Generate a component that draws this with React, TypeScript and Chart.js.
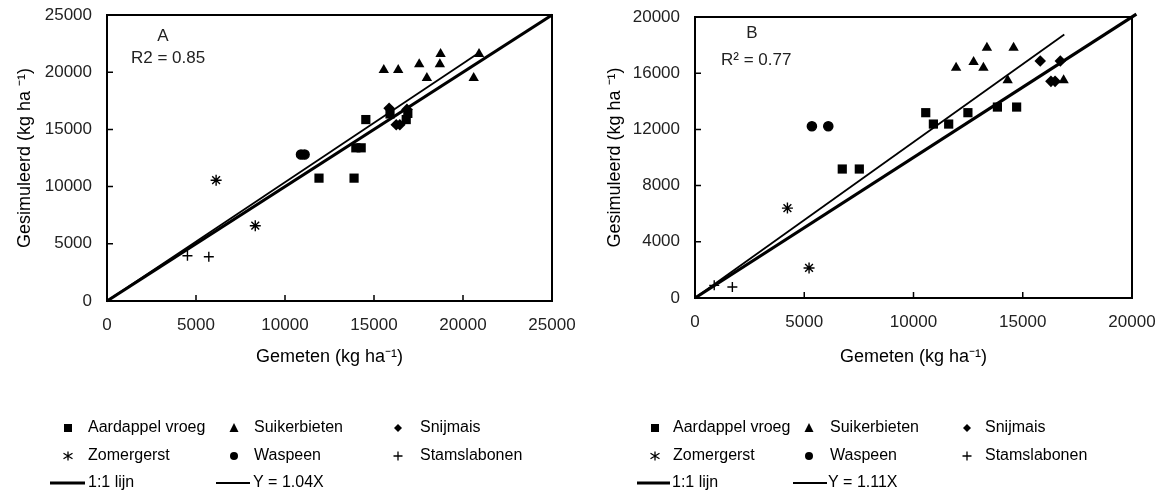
import React, { useEffect, useRef } from "react";
import { Chart, registerables } from "chart.js";
Chart.register(...registerables);

const FONT = "'Liberation Sans', Arial, sans-serif";

// ---------- Panel A data ----------
const aAardappelX = [14540, 13980, 14280, 11910, 13880, 16810, 16900, 15900];
const aAardappelY = [15860, 13390, 13390, 10740, 10740, 15860, 16400, 16350];
const aSuikerX = [15550, 16360, 17540, 18740, 18700, 17970, 20600, 20900];
const aSuikerY = [20200, 20200, 20700, 21600, 20700, 19500, 19500, 21600];
const aSnijmaisX = [15850, 16850, 16250, 16450];
const aSnijmaisY = [16850, 16750, 15400, 15400];
const aZomerX = [6130, 8330];
const aZomerY = [10560, 6580];
const aWaspeenX = [10900, 11100];
const aWaspeenY = [12800, 12800];
const aStamX = [4520, 5720];
const aStamY = [3960, 3870];
const aOneX = [0, 25000];
const aOneY = [0, 25000];
const aFitX = [0, 20900];
const aFitY = [0, 21700];
const aXTicks = [0, 5000, 10000, 15000, 20000, 25000];
const aYTicks = [0, 5000, 10000, 15000, 20000, 25000];

// ---------- Panel B data ----------
const bAardappelX = [10560, 10910, 11610, 12490, 13840, 14720, 6740, 7520];
const bAardappelY = [13190, 12380, 12380, 13190, 13590, 13590, 9180, 9180];
const bSuikerX = [13360, 14580, 11950, 12750, 13200, 14310, 16870];
const bSuikerY = [17820, 17820, 16390, 16800, 16390, 15490, 15490];
const bSnijmaisX = [15800, 16720, 16290, 16480];
const bSnijmaisY = [16870, 16870, 15420, 15420];
const bZomerX = [4230, 5220];
const bZomerY = [6400, 2140];
const bWaspeenX = [5350, 6100];
const bWaspeenY = [12220, 12220];
const bStamX = [880, 1710];
const bStamY = [900, 780];
const bOneX = [0, 20200];
const bOneY = [0, 20200];
const bFitX = [0, 16900];
const bFitY = [0, 18760];
const bXTicks = [0, 5000, 10000, 15000, 20000];
const bYTicks = [0, 4000, 8000, 12000, 16000, 20000];

const seriesNames = ["Aardappel vroeg", "Suikerbieten", "Snijmais", "Zomergerst", "Waspeen", "Stamslabonen"];

const pts = (xs: number[], ys: number[]) => xs.map((x, i) => ({ x, y: ys[i] }));

function drawMarker(ctx: CanvasRenderingContext2D, kind: string, x: number, y: number, s: number) {
  ctx.save();
  ctx.fillStyle = "#000";
  ctx.strokeStyle = "#000";
  ctx.lineWidth = 1.3;
  ctx.beginPath();
  if (kind === "rect") {
    ctx.fillRect(x - s / 2, y - s / 2, s, s);
  } else if (kind === "triangle") {
    ctx.moveTo(x, y - s * 0.55);
    ctx.lineTo(x + s / 2, y + s * 0.45);
    ctx.lineTo(x - s / 2, y + s * 0.45);
    ctx.closePath();
    ctx.fill();
  } else if (kind === "diamond") {
    ctx.moveTo(x, y - s / 2);
    ctx.lineTo(x + s / 2, y);
    ctx.lineTo(x, y + s / 2);
    ctx.lineTo(x - s / 2, y);
    ctx.closePath();
    ctx.fill();
  } else if (kind === "circle") {
    ctx.arc(x, y, s / 2, 0, Math.PI * 2);
    ctx.fill();
  } else if (kind === "star") {
    const r = s / 2;
    ctx.moveTo(x - r, y - r * 0.6); ctx.lineTo(x + r, y + r * 0.6);
    ctx.moveTo(x - r, y + r * 0.6); ctx.lineTo(x + r, y - r * 0.6);
    ctx.moveTo(x, y - r); ctx.lineTo(x, y + r);
    ctx.stroke();
  } else if (kind === "cross") {
    const r = s / 2;
    ctx.moveTo(x - r, y); ctx.lineTo(x + r, y);
    ctx.moveTo(x, y - r); ctx.lineTo(x, y + r);
    ctx.stroke();
  }
  ctx.restore();
}

type PanelCfg = {
  W: number;
  plotLeft: number; plotRight: number; plotTop: number; plotBottom: number;
  max: number; xTicks: number[]; yTicks: number[];
  yTitlePad: number; xTitlePad: number;
  series: { x: number[]; y: number[] }[];
  one: { x: number[]; y: number[] };
  fit: { x: number[]; y: number[] };
  fitLabel: string;
  letter: string; letterPos: [number, number];
  r2: string; r2Pos: [number, number];
  legendMarkerX: number[]; legendTextX: number[];
  legendRows: number[];
  lineRowY: number;
  oneLine: [number, number, number];
  fitLine: [number, number, number];
};

const H = 493;
const X_AXIS_H = 80;

function buildChart(canvas: HTMLCanvasElement, c: PanelCfg) {
  const styles = [
    { pointStyle: "rect", radius: 6.5 },
    { pointStyle: "triangle", radius: 6 },
    { pointStyle: "rectRot", radius: 5.8 },
    { pointStyle: "star", radius: 5.5 },
    { pointStyle: "circle", radius: 4.6 },
    { pointStyle: "cross", radius: 5 },
  ];
  const datasets: any[] = c.series.map((s, i) => ({
    label: seriesNames[i],
    data: pts(s.x, s.y),
    pointStyle: styles[i].pointStyle,
    pointRadius: styles[i].radius,
    pointBackgroundColor: "#000",
    pointBorderColor: "#000",
    pointBorderWidth: i >= 3 ? 1.4 : 0,
    showLine: false,
    clip: false,
  }));
  datasets.push({
    label: "1:1 lijn",
    data: pts(c.one.x, c.one.y),
    showLine: true,
    borderColor: "#000",
    borderWidth: 3.2,
    pointRadius: 0,
    clip: false,
  });
  datasets.push({
    label: c.fitLabel,
    data: pts(c.fit.x, c.fit.y),
    showLine: true,
    borderColor: "#000",
    borderWidth: 1.8,
    pointRadius: 0,
    clip: false,
  });

  const overlay = {
    id: "overlay",
    afterDraw(chart: any) {
      const ctx: CanvasRenderingContext2D = chart.ctx;
      const a = chart.chartArea;
      const xs = chart.scales.x;
      const ys = chart.scales.y;
      ctx.save();
      // frame
      ctx.strokeStyle = "#000";
      ctx.lineWidth = 2;
      ctx.strokeRect(a.left, a.top, a.right - a.left, a.bottom - a.top);
      // inward tick marks
      ctx.lineWidth = 1.5;
      ctx.beginPath();
      xs.ticks.forEach((t: any) => {
        const px = xs.getPixelForValue(t.value);
        ctx.moveTo(px, a.bottom);
        ctx.lineTo(px, a.bottom - 6);
      });
      ys.ticks.forEach((t: any) => {
        const py = ys.getPixelForValue(t.value);
        ctx.moveTo(a.left, py);
        ctx.lineTo(a.left + 6, py);
      });
      ctx.stroke();
      // panel letter and R2
      ctx.fillStyle = "#222";
      ctx.font = "17px " + FONT;
      ctx.textBaseline = "middle";
      ctx.textAlign = "center";
      ctx.fillText(c.letter, c.letterPos[0], c.letterPos[1]);
      ctx.textAlign = "left";
      ctx.fillText(c.r2, c.r2Pos[0], c.r2Pos[1]);
      // legend
      const kinds = ["rect", "triangle", "diamond", "star", "circle", "cross"];
      const sizes = [8, 9, 8, 9, 8, 9];
      ctx.font = "16px " + FONT;
      ctx.fillStyle = "#000";
      for (let i = 0; i < 6; i++) {
        const col = i % 3;
        const row = Math.floor(i / 3);
        const y = c.legendRows[row];
        drawMarker(ctx, kinds[i], c.legendMarkerX[col], y, sizes[i]);
        ctx.fillText(seriesNames[i], c.legendTextX[col], y);
      }
      ctx.strokeStyle = "#000";
      ctx.lineWidth = 3.2;
      ctx.beginPath();
      ctx.moveTo(c.oneLine[0], c.lineRowY);
      ctx.lineTo(c.oneLine[1], c.lineRowY);
      ctx.stroke();
      ctx.fillText("1:1 lijn", c.oneLine[2], c.lineRowY);
      ctx.lineWidth = 1.8;
      ctx.beginPath();
      ctx.moveTo(c.fitLine[0], c.lineRowY);
      ctx.lineTo(c.fitLine[1], c.lineRowY);
      ctx.stroke();
      ctx.fillText(c.fitLabel, c.fitLine[2], c.lineRowY);
      ctx.restore();
    },
  };

  const tickFont = { family: FONT, size: 17 };
  const titleFont = { family: FONT, size: 18 };
  return new Chart(canvas, {
    type: "scatter",
    data: { datasets },
    plugins: [overlay],
    options: {
      responsive: false,
      animation: false,
      events: [],
      layout: {
        padding: {
          left: 0,
          top: c.plotTop,
          right: c.W - c.plotRight,
          bottom: H - c.plotBottom - X_AXIS_H,
        },
      },
      plugins: { legend: { display: false }, tooltip: { enabled: false } },
      scales: {
        x: {
          type: "linear",
          min: 0,
          max: c.max,
          afterBuildTicks: (s: any) => { s.ticks = c.xTicks.map((v) => ({ value: v })); },
          afterFit: (s: any) => {
            s.height = X_AXIS_H;
            s.paddingLeft = 0; s.paddingRight = 0; s.paddingTop = 0; s.paddingBottom = 0;
          },
          grid: { display: false, drawTicks: false },
          border: { display: false },
          ticks: { color: "#222", font: tickFont, padding: 14, maxRotation: 0, autoSkip: false, callback: (v: any) => String(v) },
          title: { display: true, text: "Gemeten (kg ha⁻¹)", color: "#000", font: titleFont, padding: { top: 0, bottom: c.xTitlePad } },
        },
        y: {
          type: "linear",
          min: 0,
          max: c.max,
          afterBuildTicks: (s: any) => { s.ticks = c.yTicks.map((v) => ({ value: v })); },
          afterFit: (s: any) => {
            s.width = c.plotLeft;
            s.paddingLeft = 0; s.paddingRight = 0; s.paddingTop = 0; s.paddingBottom = 0;
          },
          grid: { display: false, drawTicks: false },
          border: { display: false },
          ticks: { color: "#222", font: tickFont, padding: 15, autoSkip: false, callback: (v: any) => String(v) },
          title: { display: true, text: "Gesimuleerd (kg ha ⁻¹)", color: "#000", font: titleFont, padding: { top: c.yTitlePad, bottom: 0 } },
        },
      },
    } as any,
  });
}

const panelA: PanelCfg = {
  W: 580,
  plotLeft: 107, plotRight: 552, plotTop: 15, plotBottom: 301,
  max: 25000, xTicks: aXTicks, yTicks: aYTicks,
  yTitlePad: 14, xTitlePad: 13,
  series: [
    { x: aAardappelX, y: aAardappelY },
    { x: aSuikerX, y: aSuikerY },
    { x: aSnijmaisX, y: aSnijmaisY },
    { x: aZomerX, y: aZomerY },
    { x: aWaspeenX, y: aWaspeenY },
    { x: aStamX, y: aStamY },
  ],
  one: { x: aOneX, y: aOneY },
  fit: { x: aFitX, y: aFitY },
  fitLabel: "Y = 1.04X",
  letter: "A", letterPos: [163, 36],
  r2: "R2 = 0.85", r2Pos: [131, 58],
  legendMarkerX: [68, 234, 398], legendTextX: [88, 254, 420],
  legendRows: [428, 456],
  lineRowY: 483,
  oneLine: [50, 85, 88],
  fitLine: [216, 250, 253],
};

const panelB: PanelCfg = {
  W: 587,
  plotLeft: 115, plotRight: 552, plotTop: 17, plotBottom: 298,
  max: 20000, xTicks: bXTicks, yTicks: bYTicks,
  yTitlePad: 24, xTitlePad: 10,
  series: [
    { x: bAardappelX, y: bAardappelY },
    { x: bSuikerX, y: bSuikerY },
    { x: bSnijmaisX, y: bSnijmaisY },
    { x: bZomerX, y: bZomerY },
    { x: bWaspeenX, y: bWaspeenY },
    { x: bStamX, y: bStamY },
  ],
  one: { x: bOneX, y: bOneY },
  fit: { x: bFitX, y: bFitY },
  fitLabel: "Y = 1.11X",
  letter: "B", letterPos: [172, 33],
  r2: "R² = 0.77", r2Pos: [141, 60],
  legendMarkerX: [75, 229, 387], legendTextX: [93, 250, 405],
  legendRows: [428, 456],
  lineRowY: 483,
  oneLine: [57, 90, 92],
  fitLine: [213, 247, 248],
};

function Panel({ cfg, left }: { cfg: PanelCfg; left: number }) {
  const ref = useRef<HTMLCanvasElement | null>(null);
  useEffect(() => {
    if (!ref.current) return;
    const ch = buildChart(ref.current, cfg);
    return () => ch.destroy();
  }, [cfg]);
  return (
    <canvas
      ref={ref}
      width={cfg.W}
      height={H}
      style={{ position: "absolute", left, top: 0, width: cfg.W, height: H }}
    />
  );
}

export default function App() {
  return (
    <div style={{ position: "absolute", left: 0, top: 0, width: 1167, height: 493, background: "#fff" }}>
      <Panel cfg={panelA} left={0} />
      <Panel cfg={panelB} left={580} />
    </div>
  );
}
